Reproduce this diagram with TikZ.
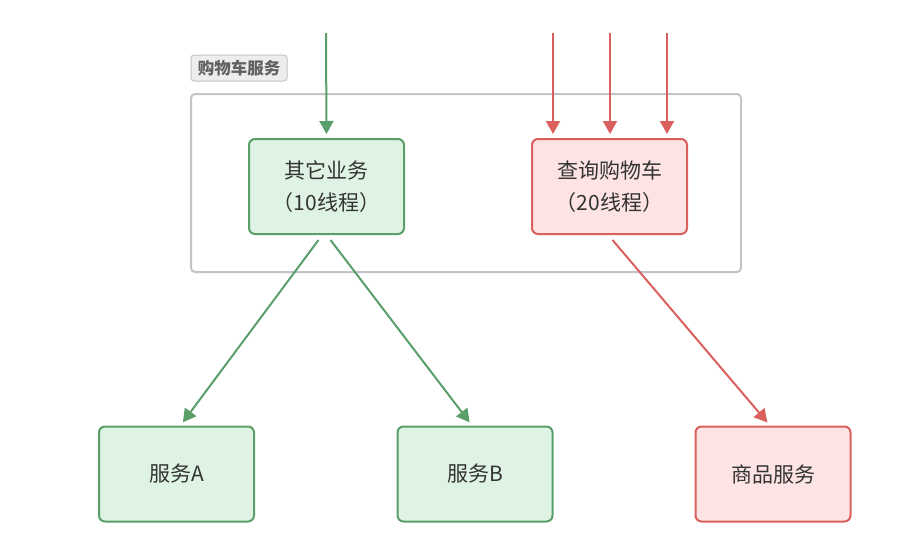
\documentclass[tikz,border=0pt]{standalone}
\usepackage{fontspec}
\setmainfont{Noto Sans CJK SC}
\usetikzlibrary{arrows.meta}
\definecolor{gfill}{HTML}{DFF3E4}
\definecolor{gdraw}{HTML}{5A9E6A}
\definecolor{rfill}{HTML}{FDE3E3}
\definecolor{rdraw}{HTML}{D9605D}
\definecolor{cdraw}{HTML}{C4C4C8}
\definecolor{txt}{HTML}{333333}
\tikzset{
  box/.style={rounded corners=6pt, line width=2pt, minimum width=155pt, minimum height=95pt, inner sep=0pt, align=center, font=\fontsize{21pt}{32pt}\selectfont, text=txt},
  gbox/.style={box, fill=gfill, draw=gdraw},
  rbox/.style={box, fill=rfill, draw=rdraw},
  garr/.style={draw=gdraw, line width=2pt, shorten >=4pt, -{Triangle[width=14pt,length=13pt]}},
  rarr/.style={draw=rdraw, line width=2pt, shorten >=4pt, -{Triangle[width=14pt,length=13pt]}},
}
\begin{document}
\begin{tikzpicture}[x=1pt,y=-1pt]
\useasboundingbox (0,0) rectangle (912,557);
\node[draw=cdraw, line width=2pt, rounded corners=4pt, minimum width=550pt, minimum height=178pt, inner sep=0pt] (cont) at (466,183) {};
\node[draw=cdraw, fill=gray!14, line width=1pt, rounded corners=3pt, minimum width=96pt, minimum height=26pt, inner sep=0pt, font=\fontsize{16.5pt}{18pt}\selectfont\bfseries, text=black!62] (lbl) at (239,68) {购物车服务};
\node[gbox] (other) at (326.5,186.5) {其它业务\\（10线程）};
\node[rbox] (query) at (609.5,186.5) {查询购物车\\（20线程）};
\node[gbox] (sa) at (176.5,474) {服务A};
\node[gbox] (sb) at (475,474) {服务B};
\node[rbox] (goods) at (773,474) {商品服务};
\coordinate (g0) at (326,33);
\coordinate (r1) at (553,33);
\coordinate (r2) at (610,33);
\coordinate (r3) at (667,33);
\draw[garr] (g0) -- (other.north);
\draw[rarr] (r1) -- (query.north -| r1);
\draw[rarr] (r2) -- (query.north -| r2);
\draw[rarr] (r3) -- (query.north -| r3);
\draw[garr] ([xshift=-8pt,yshift=-5pt]other.south) -- ([xshift=4pt]sa.north);
\draw[garr] ([xshift=4pt,yshift=-5pt]other.south) -- ([xshift=-3pt]sb.north);
\draw[rarr] ([xshift=3pt,yshift=-5pt]query.south) -- ([xshift=-3pt]goods.north);
\end{tikzpicture}
\end{document}
